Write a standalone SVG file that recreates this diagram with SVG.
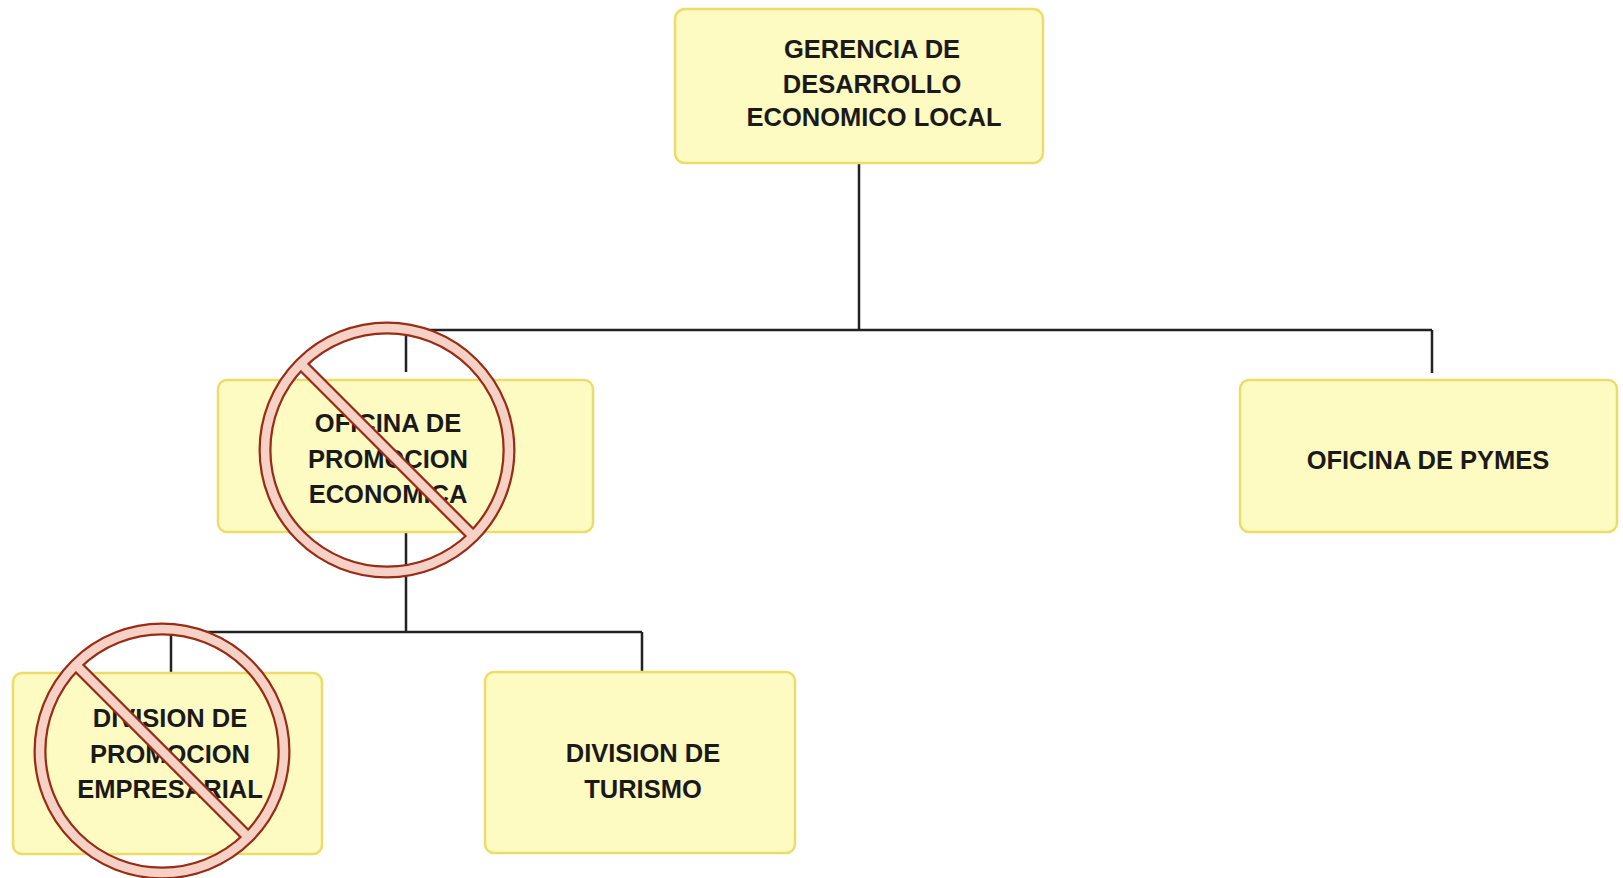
<svg xmlns="http://www.w3.org/2000/svg" width="1623" height="878" viewBox="0 0 1623 878">
<style>
.box{fill:#fefbc2;stroke:#ecdc6a;stroke-width:2.5}
.lbl{font-family:"Liberation Sans",Arial,sans-serif;font-weight:bold;font-size:25.5px;fill:#1a1a1a;text-anchor:middle}
.conn{stroke:#222;stroke-width:2.5;fill:none}
.out{fill:none;stroke:#9a2c16;stroke-width:13}
.in{fill:none;stroke:#f6d2c6;stroke-width:8.5}
</style>
<rect width="1623" height="878" fill="#fff"/>
<g id="connectors">
<path class="conn" d="M859,163V330M406,330H1432M406,330V372M1432,330V373"/>
<path class="conn" d="M406,532V632M171,632H642M171,632V673M642,632V672"/>
</g>
<g id="n-gerencia">
<rect class="box" x="675" y="9" width="368" height="154" rx="10"/>
<text class="lbl" x="872" y="58">GERENCIA DE</text>
<text class="lbl" x="872" y="93">DESARROLLO</text>
<text class="lbl" x="874" y="126">ECONOMICO LOCAL</text>
</g>
<g id="n-oficina-promocion">
<rect class="box" x="218" y="380" width="375" height="152" rx="9"/>
<text class="lbl" x="388" y="432">OFICINA DE</text>
<text class="lbl" x="388" y="468">PROMOCION</text>
<text class="lbl" x="388" y="503">ECONOMICA</text>
</g>
<g id="n-pymes">
<rect class="box" x="1240" y="380" width="377" height="152" rx="9"/>
<text class="lbl" x="1428" y="469">OFICINA DE PYMES</text>
</g>
<g id="n-division-promocion">
<rect class="box" x="13" y="673" width="309" height="181" rx="9"/>
<text class="lbl" x="170" y="727">DIVISION DE</text>
<text class="lbl" x="170" y="763">PROMOCION</text>
<text class="lbl" x="170" y="798">EMPRESARIAL</text>
</g>
<g id="n-division-turismo">
<rect class="box" x="485" y="672" width="310" height="181" rx="9"/>
<text class="lbl" x="643" y="762">DIVISION DE</text>
<text class="lbl" x="643" y="798">TURISMO</text>
</g>
<g id="sign-1">
<circle class="out" cx="387" cy="450" r="122"/>
<line class="out" x1="301" y1="364" x2="473" y2="536"/>
<circle class="in" cx="387" cy="450" r="122"/>
<line class="in" x1="301" y1="364" x2="473" y2="536"/>
</g>
<g id="sign-2">
<circle class="out" cx="162" cy="751" r="122"/>
<line class="out" x1="76" y1="665" x2="248" y2="837"/>
<circle class="in" cx="162" cy="751" r="122"/>
<line class="in" x1="76" y1="665" x2="248" y2="837"/>
</g>
</svg>
